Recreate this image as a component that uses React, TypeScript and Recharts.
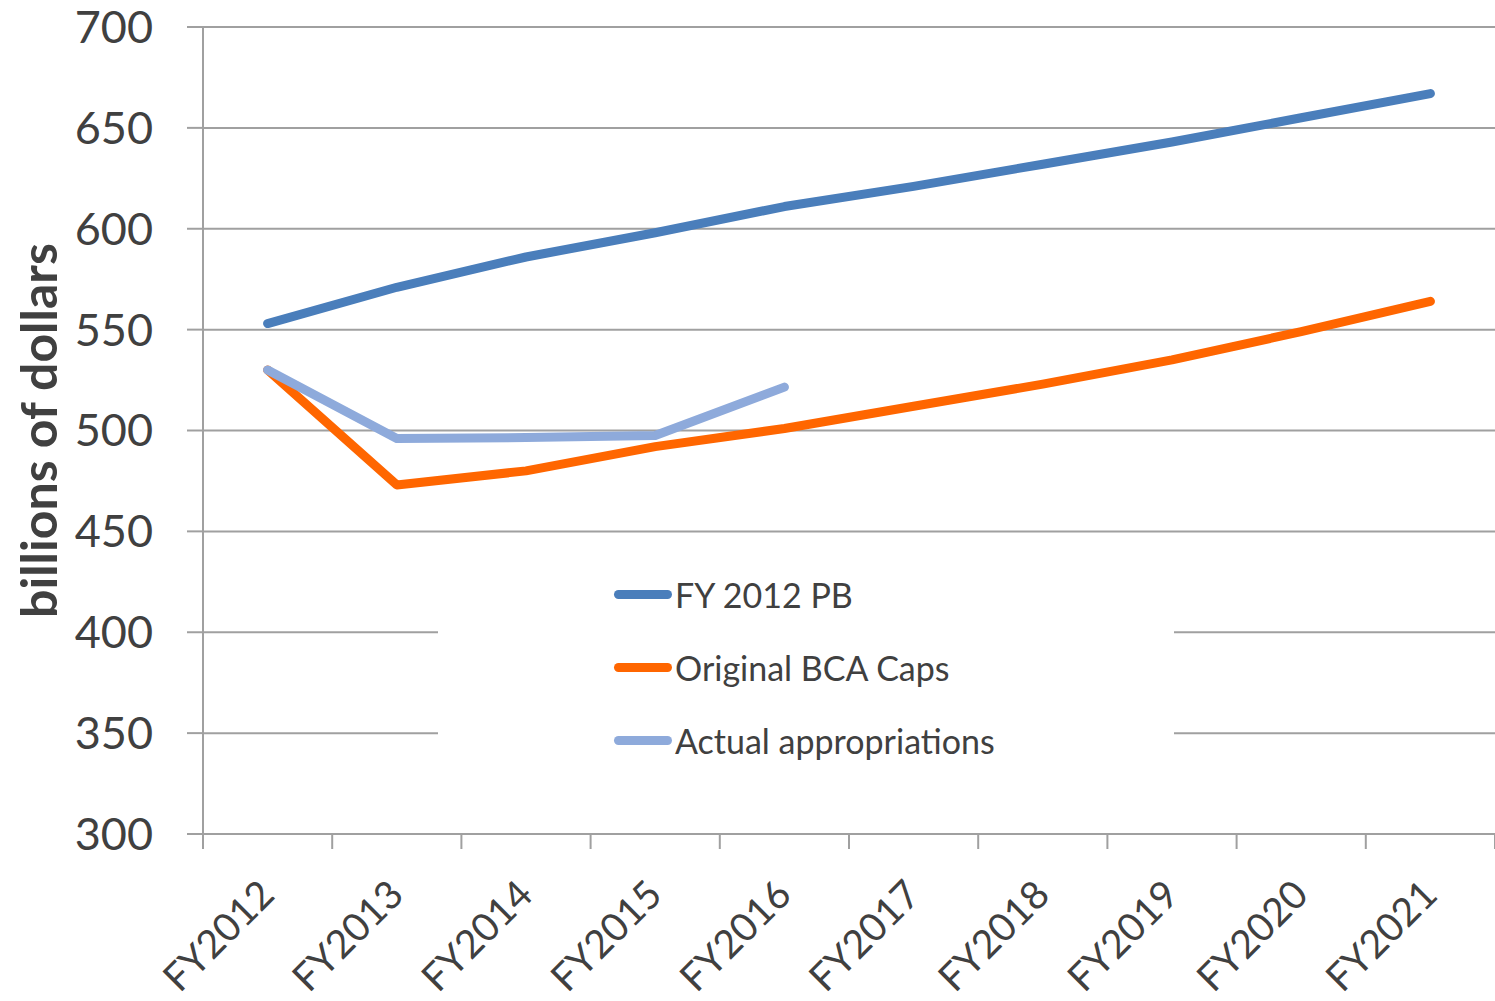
import React from 'react'
import { LineChart, Line, XAxis, YAxis, CartesianGrid, Legend } from 'recharts'

const categories = ['FY2012', 'FY2013', 'FY2014', 'FY2015', 'FY2016', 'FY2017', 'FY2018', 'FY2019', 'FY2020', 'FY2021']
const pbValues = [553, 571, 586, 598, 611, 621, 632, 643, 655, 667]
const bcaCaps = [530, 473, 480, 492, 501, 512, 523, 535, 549, 564]
const actualApprop = [530, 496, 496.5, 497.5, 521.5, null, null, null, null, null]
const yTicks = [300, 350, 400, 450, 500, 550, 600, 650, 700]

const seriesInfo = [
  { key: 'pb', name: 'FY 2012 PB', color: '#4a7ebb' },
  { key: 'caps', name: 'Original BCA Caps', color: '#ff6600' },
  { key: 'actual', name: 'Actual appropriations', color: '#8eaadb' },
]

const data = categories.map((cat, i) => ({
  cat,
  pb: pbValues[i],
  caps: bcaCaps[i],
  actual: actualApprop[i],
}))

const gridColor = '#a0a0a0'
const textColor = '#404040'
const font = 'Lato, "Open Sans", sans-serif'

// label at the category centre, tick marks on the category boundaries (Excel style)
function CategoryTick(props: any) {
  const { x, y, payload, index, width } = props
  const half = payload.offset || width / categories.length / 2
  const isLast = index === categories.length - 1
  return (
    <g transform={`translate(${x},${y})`}>
      <line x1={-half} x2={-half} y1={0} y2={15} stroke={gridColor} strokeWidth={2} />
      {isLast && <line x1={half} x2={half} y1={0} y2={15} stroke={gridColor} strokeWidth={2} />}
      <text
        x={9}
        y={63}
        textAnchor="end"
        transform="rotate(-45 9 63)"
        fontSize={39}
        fontFamily={font}
        fill={textColor}
      >
        {payload.value}
      </text>
    </g>
  )
}

function LegendBox() {
  return (
    <div style={{ background: '#fff', width: '100%', height: '100%', paddingLeft: 176, boxSizing: 'border-box' }}>
      {seriesInfo.map((s) => (
        <div key={s.key} style={{ height: 73, display: 'flex', alignItems: 'center' }}>
          <span
            style={{
              display: 'inline-block',
              width: 58,
              height: 9,
              borderRadius: 5,
              background: s.color,
              marginRight: 3,
            }}
          />
          <span style={{ fontFamily: font, fontSize: 34, color: textColor }}>{s.name}</span>
        </div>
      ))}
    </div>
  )
}

function YLabel(props: any) {
  const { viewBox } = props
  const cx = viewBox.x + 38
  const cy = viewBox.y + viewBox.height / 2
  return (
    <text
      x={cx}
      y={cy}
      transform={`rotate(-90 ${cx} ${cy})`}
      textAnchor="middle"
      dominantBaseline="central"
      fontSize={50}
      fontWeight="bold"
      fontFamily={font}
      fill={textColor}
    >
      billions of dollars
    </text>
  )
}

export default function App() {
  return (
    <div style={{ position: 'absolute', left: 0, top: 0, background: '#fff' }}>
      <LineChart width={1495} height={1001} data={data} margin={{ top: 27, right: 0, bottom: 0, left: 0 }}>
        <CartesianGrid horizontal vertical={false} stroke={gridColor} strokeWidth={2} />
        <XAxis
          dataKey="cat"
          scale="band"
          interval={0}
          height={167}
          tickSize={0}
          tickMargin={0}
          tickLine={false}
          axisLine={{ stroke: gridColor, strokeWidth: 2 }}
          tick={<CategoryTick />}
        />
        <YAxis
          width={203}
          domain={[300, 700]}
          ticks={yTicks}
          interval={0}
          tickSize={16}
          tickMargin={34}
          axisLine={{ stroke: gridColor, strokeWidth: 2 }}
          tickLine={{ stroke: gridColor, strokeWidth: 2 }}
          tick={{ fontSize: 45, fontFamily: font, fill: textColor }}
          label={<YLabel />}
        />
        <Legend
          layout="vertical"
          align="center"
          verticalAlign="middle"
          content={<LegendBox />}
          wrapperStyle={{ left: 438, top: 558, width: 736, height: 219 }}
        />
        {seriesInfo.map((s) => (
          <Line
            key={s.key}
            dataKey={s.key}
            name={s.name}
            stroke={s.color}
            strokeWidth={9}
            strokeLinecap="round"
            strokeLinejoin="round"
            dot={false}
            activeDot={false}
            isAnimationActive={false}
          />
        ))}
      </LineChart>
    </div>
  )
}
